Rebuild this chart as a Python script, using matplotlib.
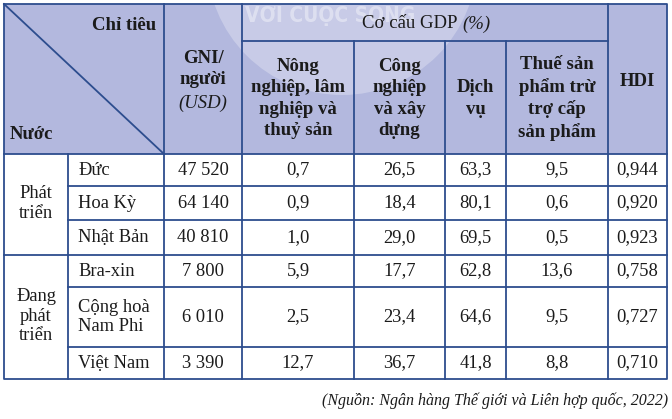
import matplotlib.pyplot as plt
from matplotlib.patches import Rectangle, Circle

plt.rcParams['font.family'] = ['Liberation Serif', 'DejaVu Serif']

# Table contents
groups = ["Phát\ntriển", "Đang\nphát\ntriển"]
group_sizes = [3, 3]
countries = ["Đức", "Hoa Kỳ", "Nhật Bản", "Bra-xin", "Cộng hoà\nNam Phi", "Việt Nam"]
gni = ["47 520", "64 140", "40 810", "7 800", "6 010", "3 390"]
agri = ["0,7", "0,9", "1,0", "5,9", "2,5", "12,7"]
industry = ["26,5", "18,4", "29,0", "17,7", "23,4", "36,7"]
services = ["63,3", "80,1", "69,5", "62,8", "64,6", "41,8"]
taxes = ["9,5", "0,6", "0,5", "13,6", "9,5", "8,8"]
hdi = ["0,944", "0,920", "0,923", "0,758", "0,727", "0,710"]
sub_headers = ["Nông\nnghiệp, lâm\nnghiệp và\nthuỷ sản", "Công\nnghiệp\nvà xây\ndựng",
               "Dịch\nvụ", "Thuế sản\nphẩm trừ\ntrợ cấp\nsản phẩm"]
source = "(Nguồn: Ngân hàng Thế giới và Liên hợp quốc, 2022)"

# Layout in pixels
col_x = [4, 68, 164, 242, 354, 445, 506, 608, 667]
top, gdp_line, head_bot = 4, 41, 154
row_y = [154, 186, 220, 255, 287, 347, 379]

line_c = '#2d4d8e'
head_c = '#b3b8de'
txt_c = '#1b1b1b'
lw = 1.3

fig = plt.figure(figsize=(6.72, 4.19), dpi=100)
ax = fig.add_axes([0, 0, 1, 1])
ax.set_xlim(0, 672)
ax.set_ylim(419, 0)
ax.axis('off')

# header background
ax.add_patch(Rectangle((col_x[0], top), col_x[-1] - col_x[0], head_bot - top,
                       facecolor=head_c, edgecolor='none', zorder=0))
# faint watermark
ax.add_patch(Circle((342, -40), 135, facecolor='white', alpha=0.28,
                    edgecolor='none', zorder=0.5,
                    clip_path=Rectangle((col_x[0], top), col_x[-1] - col_x[0],
                                        head_bot - top, transform=ax.transData)))
ax.text(330, 13, "VỚI CUỘC SỐNG", fontsize=15, fontweight='bold', color='white',
        alpha=0.4, ha='center', va='center', family=['DejaVu Sans'],
        fontstretch='condensed', zorder=0.6)

kw = dict(color=line_c, lw=lw, solid_capstyle='projecting', zorder=3)
# outer border
ax.plot([col_x[0], col_x[-1], col_x[-1], col_x[0], col_x[0]],
        [top, top, row_y[-1], row_y[-1], top], **kw)
# header lines
ax.plot([col_x[0], col_x[2]], [top, head_bot], **kw)
for x in [col_x[2], col_x[3], col_x[7]]:
    ax.plot([x, x], [top, row_y[-1]], **kw)
ax.plot([col_x[3], col_x[7]], [gdp_line, gdp_line], **kw)
for x in col_x[4:7]:
    ax.plot([x, x], [gdp_line, row_y[-1]], **kw)
ax.plot([col_x[1], col_x[1]], [head_bot, row_y[-1]], **kw)
ax.plot([col_x[0], col_x[-1]], [head_bot, head_bot], **kw)
# row lines
for i, y in enumerate(row_y[1:-1], start=1):
    x0 = col_x[0] if i == group_sizes[0] else col_x[1]
    ax.plot([x0, col_x[-1]], [y, y], **kw)

# header text
hk = dict(fontsize=13.5, fontweight='bold', color=txt_c, ha='center', va='center',
          linespacing=1.35)
ax.text(156, 25, "Chỉ tiêu", **{**hk, 'ha': 'right'})
ax.text(10, 134, "Nước", **{**hk, 'ha': 'left'})
ax.text(203, 69, "GNI/\nngười", **{**hk, 'linespacing': 1.25})
ax.text(203, 103, "(USD)", fontsize=13.5, style='italic', color=txt_c,
        ha='center', va='center')
ax.text(462, 24, "Cơ cấu GDP ", **{**hk, 'ha': 'right', 'fontweight': 'normal'})
ax.text(462, 24, "(%)", fontsize=13.5, style='italic', color=txt_c,
        ha='left', va='center')
for j, h in enumerate(sub_headers):
    xc = (col_x[3 + j] + col_x[4 + j]) / 2
    ax.text(xc, (gdp_line + head_bot) / 2 + 1, h, **hk)
ax.text((col_x[7] + col_x[8]) / 2, 82, "HDI", **hk)

# body text
bk = dict(fontsize=13.3, color=txt_c, va='center', linespacing=1.2)
start = 0
for g, n in zip(groups, group_sizes):
    yc = (row_y[start] + row_y[start + n]) / 2 - 1
    ax.text((col_x[0] + col_x[1]) / 2, yc, g, ha='center', **bk)
    start += n
columns = [gni, agri, industry, services, taxes, hdi]
for i, c in enumerate(countries):
    yc = (row_y[i] + row_y[i + 1]) / 2
    ax.text(col_x[1] + 10, yc, c, ha='left', **bk)
    for j, vals in enumerate(columns):
        xc = (col_x[2 + j] + col_x[3 + j]) / 2
        ax.text(xc, yc, vals[i], ha='center', **bk)

ax.text(668, 401, source, fontsize=11.5, style='italic', color=txt_c,
        ha='right', va='center')

fig.savefig('out.png', dpi=100)
